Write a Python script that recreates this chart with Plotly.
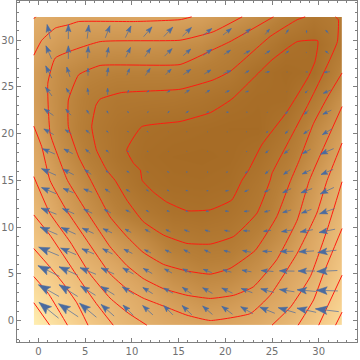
import plotly.graph_objects as go

# potential surface (rows run bottom to top)
GRID_X = [-0.5, 2.5, 5.5, 8.5, 11.5, 14.5, 17.5, 20.5, 23.5, 26.5, 29.5, 32.5]
GRID_Y = [-0.5, 2.5, 5.5, 8.5, 11.5, 14.5, 17.5, 20.5, 23.5, 26.5, 29.5, 32.5]
POTENTIAL = [
    [10.9, 9.35, 7.93, 6.85, 6.0, 5.45, 5.15, 5.3, 5.7, 6.55, 7.8, 9.4],
    [9.8, 8.4, 7.2, 6.25, 5.4, 4.5, 3.9, 4.15, 4.75, 5.55, 6.95, 8.55],
    [8.75, 7.5, 6.3, 5.32, 4.4, 3.3, 2.85, 3.0, 3.73, 4.95, 5.95, 7.85],
    [7.8, 6.6, 5.27, 4.2, 3.33, 2.28, 1.93, 2.05, 2.9, 3.97, 5.55, 7.25],
    [6.95, 5.0, 3.73, 2.7, 1.9, 1.23, 1.09, 1.36, 2.03, 3.36, 4.85, 6.65],
    [6.1, 4.45, 3.16, 1.97, 1.03, 0.75, 0.7, 0.85, 1.65, 2.9, 4.4, 6.1],
    [5.6, 3.8, 2.44, 1.4, 0.75, 0.55, 0.5, 0.6, 1.1, 2.15, 3.65, 5.3],
    [5.05, 3.33, 2.1, 1.4, 0.95, 0.8, 0.7, 0.55, 0.55, 1.5, 3.2, 4.6],
    [4.7, 3.33, 2.3, 1.78, 1.72, 1.64, 1.4, 1.0, 0.7, 0.75, 2.2, 3.9],
    [4.75, 3.5, 2.9, 2.7, 2.68, 2.68, 2.38, 2.0, 1.0, 0.6, 0.9, 3.0],
    [5.3, 4.45, 4.0, 3.9, 4.0, 3.78, 3.5, 2.7, 2.3, 1.2, 0.8, 2.1],
    [6.0, 5.35, 5.2, 5.2, 5.2, 5.1, 4.85, 4.25, 3.5, 2.6, 1.75, 2.2],
]

# contour lines, one pair of lists per piece
LINE_1_X = [9.45, 11.05, 15.16, 18.4, 20.7, 25, 27.7, 29.9, 29.6, 28.9, 26.6, 23.9, 22.5, 21.8, 20.7, 18.4, 15.9, 13.7, 12.3, 11.1, 10.9, 10.2, 9.45]
LINE_1_Y = [18.25, 20.75, 21.3, 22.25, 23.7, 27.9, 29.85, 29.95, 27.7, 26.1, 22.35, 18.8, 16.1, 15.04, 12.9, 11.85, 11.75, 12.7, 13.75, 15, 16.1, 16.8, 18.25]
LINE_2_X = [31.8, 32.1, 32, 31, 29.45, 28.75, 26.85, 25, 24.8, 23.4, 20.9, 18.4, 15.9, 13.4, 11.2, 9.45, 8.2, 7.3, 6.2, 5.7, 6.15, 6.6, 8.9, 15.16, 18.7, 20.5, 24.8, 27.7, 28.55]
LINE_2_Y = [32.5, 32.2, 29.85, 27.5, 24.3, 22.9, 19.3, 15.75, 15, 11.5, 9, 8.18, 8.25, 9.14, 10.6, 12.9, 15, 16.1, 18.25, 20.75, 23.05, 23.7, 24.4, 24.75, 25.75, 26.65, 30.4, 32.2, 32.5]
LINE_3_X = [25.15, 20.5, 18.7, 15.16, 6.6, 4.3, 3.2, 3.2, 4.3, 5.6, 7.66, 9.45, 11.2, 13.4, 15.9, 18.4, 20.5, 23.2, 25.5, 27, 27.9, 29.45, 31, 32.5]
LINE_3_Y = [32.5, 29.85, 29, 27.4, 27.3, 26.3, 23.6, 20.75, 17.5, 15, 11.1, 9, 7.3, 6, 5.3, 4.96, 5.57, 7.5, 11.1, 15, 17.1, 21.1, 24, 26.5]
LINE_4_X = [21.8, 18.7, 15.16, 6.6, 1.8, 1, 1.25, 2.5, 3.1, 5, 7.66, 9.45, 11.2, 13.4, 15.9, 18.4, 20.9, 23, 25.5, 27.7, 29, 32.5]
LINE_4_Y = [32.5, 30.9, 30, 29.85, 28.1, 25.4, 20, 16.5, 15, 11.9, 7.9, 5.9, 4.5, 3.4, 2.7, 2.36, 2.7, 3.6, 6.5, 10.75, 15, 22.9]
LINE_5A_X = [-0.5, 0.35, 1.8, 3.2, 4.3, 10.2, 15.16, 16.4]
LINE_5A_Y = [28.4, 30, 31.3, 31.65, 32, 32, 32.2, 32.5]
LINE_5B_X = [-0.5, 0.35, 1.23, 3, 5.16, 7.66, 9.45, 11.2, 13.4, 15.9, 18.4, 22.7, 24.8, 27.7, 29.8, 30.9, 32.5]
LINE_5B_Y = [20.8, 18.6, 15, 11.8, 8.6, 5, 3.4, 2.4, 1.54, 0.57, 0, 0.75, 2.7, 7.2, 11.5, 15, 19]
LINE_6A_X = [-0.5, 1.23, 3.4, 5.5, 7.66, 9.6, 11.6]
LINE_6A_Y = [15.4, 11.46, 8.4, 5, 2.4, 0.8, -0.5]
LINE_6B_X = [25, 27, 29.1, 30.9, 32.5]
LINE_6B_Y = [-0.5, 1.46, 4.7, 9.7, 14.85]
LINE_6C_X = [-0.5, -0.3]
LINE_6C_Y = [32.3, 32.5]
LINE_7A_X = [-0.5, 1.23, 2.66, 4.45, 6.2, 8]
LINE_7A_Y = [11.3, 9.14, 7, 4.3, 1.8, -0.5]
LINE_7B_X = [27.8, 29.45, 30.5, 32.5]
LINE_7B_Y = [-0.5, 2.2, 5, 9.85]
LINE_8A_X = [-0.5, 1.05, 2.66, 4.1, 5.3]
LINE_8A_Y = [7.7, 5.93, 3.96, 1.9, -0.5]
LINE_8B_X = [30, 32.5]
LINE_8B_Y = [-0.5, 4.85]
LINE_9A_X = [-0.5, 1.05, 3.1]
LINE_9A_Y = [4.7, 2.9, -0.5]
LINE_9B_X = [31.8, 32.5]
LINE_9B_Y = [-0.5, 0.9]
LINE_10_X = [-0.5, 1.2]
LINE_10_Y = [1.9, -0.5]

CONTOUR_LINES = [
    (LINE_1_X, LINE_1_Y), (LINE_2_X, LINE_2_Y), (LINE_3_X, LINE_3_Y), (LINE_4_X, LINE_4_Y),
    (LINE_5A_X, LINE_5A_Y), (LINE_5B_X, LINE_5B_Y), (LINE_6A_X, LINE_6A_Y), (LINE_6B_X, LINE_6B_Y),
    (LINE_6C_X, LINE_6C_Y), (LINE_7A_X, LINE_7A_Y), (LINE_7B_X, LINE_7B_Y), (LINE_8A_X, LINE_8A_Y),
    (LINE_8B_X, LINE_8B_Y), (LINE_9A_X, LINE_9A_Y), (LINE_9B_X, LINE_9B_Y), (LINE_10_X, LINE_10_Y),
]

# arrow sample points and tail-to-tip extents, rows bottom to top
ARROW_X = [1.1, 3.2, 5.3, 7.4, 9.6, 11.7, 13.9, 15.9, 18.1, 20.2, 22.3, 24.5, 26.6, 28.7, 30.9]
ARROW_Y = [1.1, 3.2, 5.3, 7.4, 9.6, 11.7, 13.9, 15.9, 18.1, 20.2, 22.3, 24.5, 26.6, 28.7, 30.9]
ARROW_DX = [
    [-2.1, -2.1, -1.8, -1.4, -1.1, -1.1, -1, -1.05, -1.05, -1.15, -1.3, -1.6, -1.85, -2.05, -2.5],
    [-2.2, -2, -1.6, -1.45, -1.25, -1.05, -1, -1, -1.05, -1.15, -1.2, -1.4, -1.6, -2, -2.3],
    [-2.3, -2, -1.7, -1.4, -1.15, -0.95, -0.8, -0.9, -0.9, -0.9, -1, -1.3, -1.6, -1.8, -2.2],
    [-2.15, -1.65, -1.3, -1.05, -0.9, -0.7, -0.65, -0.68, -0.65, -0.7, -0.9, -1, -1.4, -1.6, -2],
    [-1.85, -1.55, -1.2, -0.95, -0.65, -0.55, -0.5, -0.55, -0.55, -0.55, -0.7, -0.8, -1.15, -1.35, -1.7],
    [-1.65, -1.25, -0.9, -0.7, -0.5, -0.35, -0.3, -0.25, -0.3, -0.4, -0.55, -0.6, -0.9, -1.05, -1.6],
    [-1.55, -1.1, -0.9, -0.55, -0.43, -0.28, -0.2, -0.25, -0.18, -0.35, -0.45, -0.6, -0.9, -1.2, -1.45],
    [-1.55, -1.15, -0.7, -0.35, -0.28, -0.18, -0.2, -0.15, -0.1, -0.15, -0.3, -0.43, -0.7, -0.9, -1.3],
    [-1.3, -0.95, -0.5, -0.35, -0.18, -0.1, -0.05, -0.05, -0.05, -0.07, -0.1, -0.35, -0.55, -0.85, -1.4],
    [-1.05, -0.65, -0.43, -0.2, -0.1, -0.12, -0.03, -0.06, -0.05, -0.05, -0.06, -0.18, -0.35, -0.6, -1],
    [-1, -0.55, -0.28, -0.14, -0.1, 0.14, 0.2, 0.3, 0.25, 0.25, 0.1, -0.05, -0.3, -0.45, -0.9],
    [-0.7, -0.43, -0.1, 0, 0.1, 0.25, 0.35, 0.5, 0.45, 0.45, 0.35, 0.03, 0.03, -0.28, -0.8],
    [-0.65, -0.35, 0, 0.14, 0.28, 0.5, 0.6, 0.8, 0.7, 0.8, 0.45, 0.45, 0.05, 0.2, -0.6],
    [-0.6, 0, 0.07, 0.2, 0.5, 0.6, 0.8, 0.8, 0.9, 0.7, 0.65, 0.55, 0.35, 0.05, -0.35],
    [-0.35, 0, 0.18, 0.5, 0.6, 0.9, 0.95, 0.95, 0.9, 0.9, 0.75, 0.45, 0.3, 0, -0.3],
]
ARROW_DY = [
    [1.7, 1.4, 1.5, 1.25, 1.1, 1, 1, 1, 0.9, 0.85, 0.75, 0.65, 0.55, 0.45, 0.3],
    [1.25, 1.25, 1, 0.9, 0.8, 0.65, 0.55, 0.7, 0.6, 0.55, 0.45, 0.4, 0.25, 0.18, 0.07],
    [1.15, 0.9, 0.7, 0.65, 0.65, 0.55, 0.45, 0.45, 0.35, 0.25, 0.18, 0.1, 0.03, 0, -0.1],
    [0.9, 0.7, 0.55, 0.55, 0.45, 0.35, 0.3, 0.35, 0.3, 0.18, 0.18, 0.03, -0.03, -0.1, -0.25],
    [0.8, 0.7, 0.55, 0.45, 0.35, 0.3, 0.25, 0.2, 0.15, 0.1, 0.03, -0.1, -0.18, -0.25, -0.35],
    [0.65, 0.55, 0.43, 0.35, 0.25, 0.18, 0.1, 0.05, 0, 0.03, -0.05, -0.15, -0.28, -0.4, -0.55],
    [0.65, 0.45, 0.35, 0.35, 0.25, 0.18, 0.14, 0.03, 0, -0.07, -0.2, -0.28, -0.43, -0.45, -0.68],
    [0.7, 0.6, 0.5, 0.28, 0.2, 0.1, 0.07, 0, 0, -0.05, -0.25, -0.39, -0.5, -0.43, -0.55],
    [0.55, 0.5, 0.43, 0.28, 0.1, 0.05, 0.03, 0, 0, -0.03, -0.05, -0.35, -0.45, -0.45, -0.6],
    [0.6, 0.43, 0.35, 0.18, 0.14, 0.1, 0.02, 0, 0, 0, 0, -0.2, -0.35, -0.43, -0.6],
    [0.7, 0.65, 0.43, 0.28, 0.18, 0.1, 0.14, 0.2, 0.1, 0, 0, -0.05, -0.35, -0.43, -0.43],
    [0.93, 0.7, 0.7, 0.7, 0.35, 0.2, 0.2, 0.35, 0.28, 0.18, 0.1, 0, 0.02, -0.28, -0.35],
    [1.3, 1.05, 0.8, 0.9, 0.7, 0.75, 0.6, 0.55, 0.43, 0.28, 0.28, 0.07, 0, 0, -0.07],
    [1.4, 1.4, 1.25, 1.05, 1.05, 0.9, 0.8, 0.7, 0.65, 0.45, 0.35, 0.35, 0.28, 0.05, 0.28],
    [1.55, 1.55, 1.45, 1.3, 1.25, 1.05, 1, 0.93, 0.7, 0.7, 0.65, 0.55, 0.45, 0.28, 0.35],
]

TICKS = [0, 5, 10, 15, 20, 25, 30]
ARROW_COLOR = "#4a6b9f"
AXIS_COLOR = "#808080"

shaft_x, shaft_y, head_x, head_y = [], [], [], []
for j, y0 in enumerate(ARROW_Y):
    for i, x0 in enumerate(ARROW_X):
        dx, dy = ARROW_DX[j][i], ARROW_DY[j][i]
        tail = (x0 - dx / 2, y0 - dy / 2)
        tip = (x0 + dx / 2, y0 + dy / 2)
        shaft_x += [tail[0], tip[0], None]
        shaft_y += [tail[1], tip[1], None]
        # swept-back head, scaled with the arrow
        bx, by = tip[0] - 0.5 * dx, tip[1] - 0.5 * dy
        nx, ny = tip[0] - 0.4 * dx, tip[1] - 0.4 * dy
        px, py = -dy * 0.18, dx * 0.18
        head_x += [tip[0], bx + px, nx, bx - px, tip[0], None]
        head_y += [tip[1], by + py, ny, by - py, tip[1], None]

fig = go.Figure()
fig.add_trace(
    go.Contour(
        x=GRID_X,
        y=GRID_Y,
        z=POTENTIAL,
        colorscale=[
            [0.0, "#a66b25"],
            [0.2, "#b87f38"],
            [0.45, "#dba561"],
            [0.75, "#f5cc8a"],
            [1.0, "#ffefb2"],
        ],
        zmin=0.5,
        zmax=10.9,
        showscale=False,
        ncontours=60,
        contours={"coloring": "heatmap", "showlines": False},
        line={"width": 0},
        hoverinfo="skip",
    )
)
for line_x, line_y in CONTOUR_LINES:
    fig.add_trace(
        go.Scatter(
            x=line_x,
            y=line_y,
            mode="lines",
            line={"color": "#ff1a10", "width": 1, "shape": "spline", "smoothing": 0.4},
            hoverinfo="skip",
        )
    )
fig.add_trace(
    go.Scatter(
        x=shaft_x,
        y=shaft_y,
        mode="lines",
        line={"color": "rgba(74,107,159,0.7)", "width": 1},
        hoverinfo="skip",
    )
)
fig.add_trace(
    go.Scatter(
        x=head_x,
        y=head_y,
        mode="lines",
        line={"color": ARROW_COLOR, "width": 0.5},
        fill="toself",
        fillcolor=ARROW_COLOR,
        hoverinfo="skip",
    )
)

axis_style = dict(
    tickvals=TICKS,
    ticks="inside",
    ticklen=4,
    tickwidth=1,
    tickcolor=AXIS_COLOR,
    showline=True,
    linecolor=AXIS_COLOR,
    linewidth=1,
    mirror="allticks",
    showgrid=False,
    zeroline=False,
    automargin=False,
    tickfont={"family": "DejaVu Sans", "size": 10, "color": "#707070"},
    minor={"dtick": 1, "ticks": "inside", "ticklen": 2, "tickcolor": AXIS_COLOR, "showgrid": False},
)
fig.update_xaxes(range=[-2.3, 34.1], **axis_style)
fig.update_yaxes(range=[-2.3, 34.2], **axis_style)
fig.update_layout(
    width=360,
    height=360,
    showlegend=False,
    margin={"l": 17, "r": 3, "t": 1, "b": 18},
    paper_bgcolor="white",
    plot_bgcolor="white",
)

fig.write_html("out.html", config={"displayModeBar": False}, post_script="document.body.style.margin='0';")
